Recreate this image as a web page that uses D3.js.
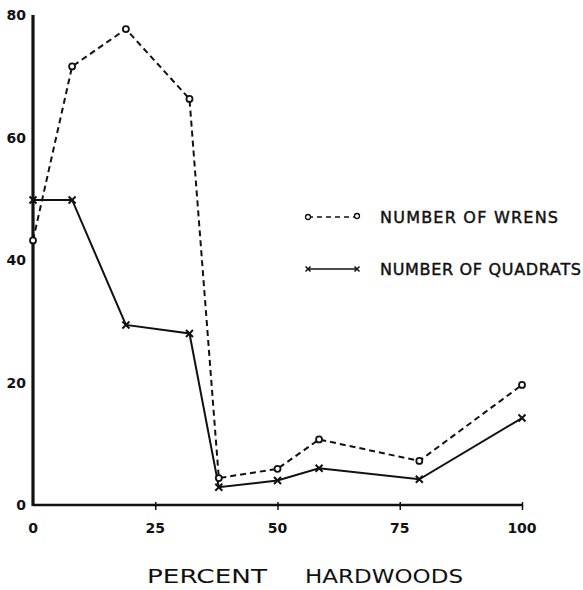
<!DOCTYPE html>
<html><head><meta charset="utf-8">
<script src="https://cdn.jsdelivr.net/npm/d3@7"></script>
<style>body{margin:0;background:#fff}svg{display:block}</style>
</head><body>
<script>
const percentHardwoods = [0, 8, 19, 32, 38, 50, 58.5, 79, 100];
const wrens =    [43.2, 71.6, 77.7, 66.3, 4.4, 5.9, 10.7, 7.2, 19.6];
const quadrats = [49.8, 49.8, 29.4, 28.0, 2.9, 4.0, 6.0, 4.2, 14.2];
const xTicks = [0, 25, 50, 75, 100];
const yTicks = [0, 20, 40, 60, 80];
const legendLabels = ["NUMBER OF WRENS", "NUMBER OF QUADRATS"];
const xTitleWords = ["PERCENT", "HARDWOODS"];

const W = 583, H = 590;
const svg = d3.select("body").append("svg").attr("width", W).attr("height", H);
const x = d3.scaleLinear().domain([0, 100]).range([33, 522]);
const y = d3.scaleLinear().domain([0, 80]).range([505, 15]);
const ink = "#111";
const font = "'DejaVu Sans', sans-serif";

// axes
const gx = svg.append("g").attr("transform", `translate(0,${y(0)})`)
  .call(d3.axisBottom(x).tickValues(xTicks).tickSize(6).tickFormat(""));
gx.select(".domain").attr("stroke", ink).attr("stroke-width", 2.5).attr("d", `M${x(0)},0H${x(100)}`);
gx.selectAll(".tick line").attr("stroke", ink).attr("stroke-width", 1.5)
  .attr("y1", -3).attr("y2", 5);
gx.selectAll(".tick").filter(d => d === 0).select("line").remove();
svg.append("g").selectAll("text").data(xTicks).join("text")
  .attr("x", d => x(d)).attr("y", 533)
  .attr("text-anchor", "middle").attr("font-family", font).attr("font-weight", "bold")
  .attr("font-size", 14).attr("fill", ink).text(d => d);

const gy = svg.append("g").attr("transform", `translate(${x(0)},0)`)
  .call(d3.axisLeft(y).tickValues(yTicks).tickSize(0).tickFormat(""));
gy.select(".domain").attr("stroke", ink).attr("stroke-width", 3.2).attr("d", `M0,${y(80)}V${y(0)+1}`);
svg.append("g").selectAll("text").data(yTicks).join("text")
  .attr("x", 26).attr("y", d => y(d) + 5)
  .attr("text-anchor", "end").attr("font-family", font).attr("font-weight", "bold")
  .attr("font-size", 14).attr("fill", ink).text(d => d);

// lines
const line = d3.line().x(d => x(d[0])).y(d => y(d[1]));
const wData = percentHardwoods.map((p, i) => [p, wrens[i]]);
const qData = percentHardwoods.map((p, i) => [p, quadrats[i]]);
svg.append("path").datum(wData).attr("d", line).attr("fill", "none")
  .attr("stroke", ink).attr("stroke-width", 2).attr("stroke-dasharray", "6,4");
svg.append("path").datum(qData).attr("d", line).attr("fill", "none")
  .attr("stroke", ink).attr("stroke-width", 2);

// markers
svg.append("g").selectAll("circle").data(wData).join("circle")
  .attr("cx", d => x(d[0])).attr("cy", d => y(d[1])).attr("r", 3)
  .attr("fill", "#fff").attr("stroke", ink).attr("stroke-width", 1.8);
function cross(g, cx, cy, s, w) {
  g.append("path").attr("d", `M${cx-s},${cy-s}L${cx+s},${cy+s}M${cx-s},${cy+s}L${cx+s},${cy-s}`)
    .attr("stroke", ink).attr("stroke-width", w).attr("fill", "none");
}
const gq = svg.append("g");
qData.forEach(d => cross(gq, x(d[0]), y(d[1]), 3.5, 2));

// legend
const lg = svg.append("g");
lg.append("line").attr("x1", 308).attr("x2", 357).attr("y1", 217).attr("y2", 217)
  .attr("stroke", ink).attr("stroke-width", 1.5).attr("stroke-dasharray", "5,4");
lg.append("circle").attr("cx", 308).attr("cy", 217).attr("r", 2.5).attr("fill", "#fff").attr("stroke", ink).attr("stroke-width", 1.3);
lg.append("circle").attr("cx", 357).attr("cy", 216).attr("r", 2.5).attr("fill", "#fff").attr("stroke", ink).attr("stroke-width", 1.3);
lg.append("line").attr("x1", 309).attr("x2", 356).attr("y1", 269).attr("y2", 269)
  .attr("stroke", ink).attr("stroke-width", 1.5);
[308, 357].forEach(cx => cross(lg, cx, 269, 2.5, 1.5));
lg.selectAll("text.lab").data(legendLabels).join("text").attr("class", "lab")
  .attr("x", 380).attr("y", (d, i) => i === 0 ? 223 : 275)
  .attr("font-family", font).attr("font-size", 16).attr("fill", ink)
  .attr("stroke", ink).attr("stroke-width", 0.45)
  .attr("textLength", (d, i) => i === 0 ? 178 : 201).attr("lengthAdjust", "spacing")
  .text(d => d);

// x title
const titlePos = [[147, 120], [305, 158]];
svg.append("g").selectAll("text").data(xTitleWords).join("text")
  .attr("x", (d, i) => titlePos[i][0]).attr("y", 583).attr("font-family", font)
  .attr("font-size", 19).attr("fill", ink)
  .attr("textLength", (d, i) => titlePos[i][1]).attr("lengthAdjust", "spacingAndGlyphs")
  .text(d => d);
</script>
</body></html>
